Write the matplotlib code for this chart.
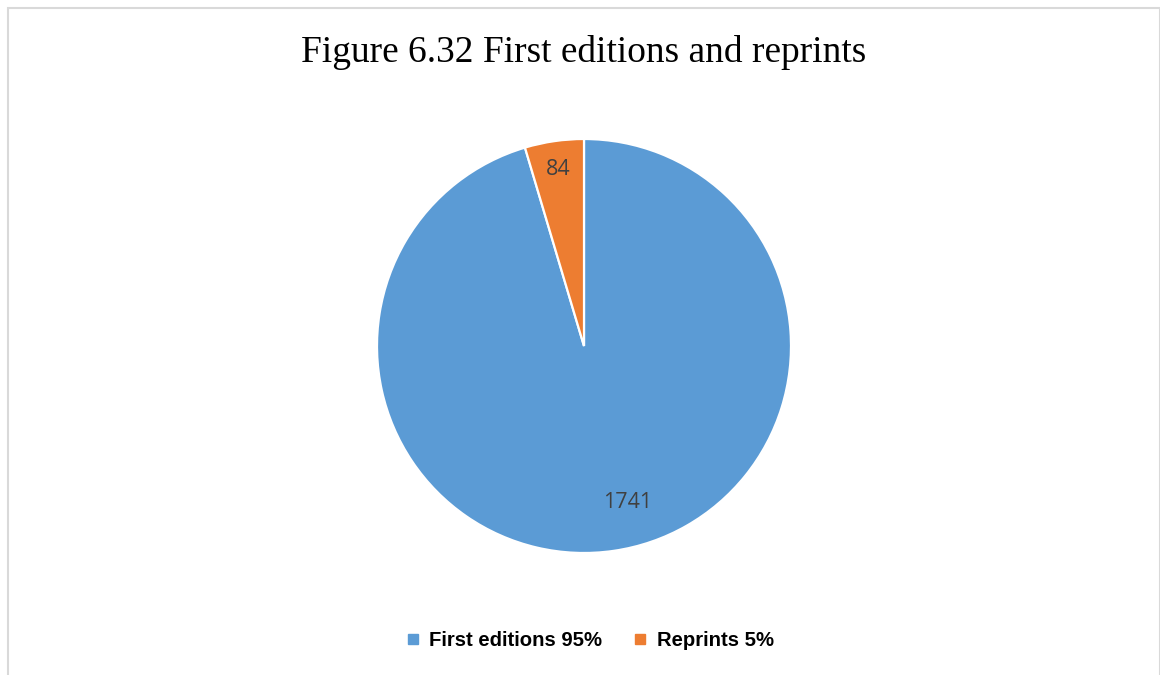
import matplotlib.pyplot as plt
from matplotlib.lines import Line2D
from matplotlib.patches import Rectangle

# Data
categories = ['First editions', 'Reprints']
counts = [1741, 84]
colors = ['#5B9BD5', '#ED7D31']
title = 'Figure 6.32 First editions and reprints'

total = sum(counts)
shares = [round(100 * c / total) for c in counts]

fig = plt.figure(figsize=(11.6, 6.75), dpi=100)
W, H = 1160, 675

# chart frame (Excel style light gray border)
fig.patches.append(Rectangle((7.5 / W, -0.05), (1159.5 - 7.5) / W, 1.05 - 7.5 / H,
                             transform=fig.transFigure, fill=False,
                             edgecolor='#D9D9D9', linewidth=1.5))

# pie axes: centre (584, 346) px, radius 207 px
cx, cy, r = 584, 346, 207
ax = fig.add_axes([(cx - r) / W, 1 - (cy + r) / H, 2 * r / W, 2 * r / H])
wedges, texts, autotexts = ax.pie(counts, colors=colors, startangle=90, counterclock=False,
                                  autopct=lambda p: f'{p * total / 100:.0f}', pctdistance=0.86,
                                  wedgeprops=dict(edgecolor='white', linewidth=1.6),
                                  textprops=dict(color='#404040', fontsize=15.5,
                                                 family='Open Sans'))
ax.set_xlim(-1, 1)
ax.set_ylim(-1, 1)
# Excel puts the big label off-centre
autotexts[0].set_position((0.213, -0.758))

fig.text(cx / W, 1 - 52 / H, title, ha='center', va='center',
         fontsize=26.9, family='Liberation Serif', color='black')

handles = [Line2D([], [], linestyle='none', marker='s', markersize=6.5,
                  markerfacecolor=c, markeredgecolor=c) for c in colors]
labels = [f'{n} {s}%' for n, s in zip(categories, shares)]
fig.legend(handles, labels, loc='center', bbox_to_anchor=((cx + 6) / W, 1 - 641 / H), ncol=2,
           frameon=False, handlelength=0.6, handletextpad=0.5, columnspacing=1.6,
           prop=dict(family='Liberation Sans', weight='bold', size=14.6))

fig.savefig('out.png', dpi=100)
